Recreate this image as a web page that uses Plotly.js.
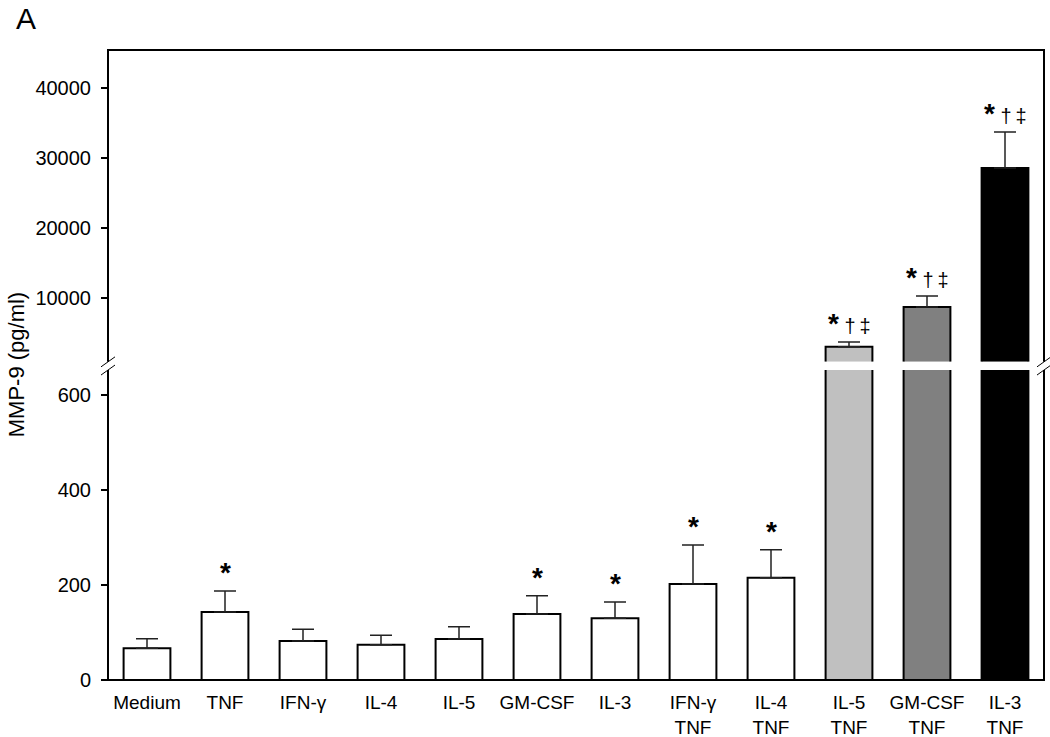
<!DOCTYPE html>
<html>
<head>
<meta charset="utf-8">
<script src="https://cdn.plot.ly/plotly-3.0.1.min.js"></script>
<style>
  body { margin: 0; background: #fff; }
  #chart { width: 1050px; height: 737px; }
</style>
</head>
<body>
<div id="chart"></div>
<script>
// categories (two-line labels) and values
var labels = ['Medium', 'TNF', 'IFN-\u03b3', 'IL-4', 'IL-5', 'GM-CSF', 'IL-3',
              'IFN-\u03b3<br>TNF', 'IL-4<br>TNF', 'IL-5<br>TNF', 'GM-CSF<br>TNF', 'IL-3<br>TNF'];
var mmp9 = [67, 143, 82, 74, 86, 139, 130, 202, 215, 3000, 8700, 28550];
var sem  = [20, 44, 25, 20, 26, 38, 34, 82, 59, 700, 1580, 5150];
var marks = ['', '*', '', '', '', '*', '*', '*', '*', '*\u2020\u2021', '*\u2020\u2021', '*\u2020\u2021'];
var fills = ['#ffffff', '#ffffff', '#ffffff', '#ffffff', '#ffffff', '#ffffff', '#ffffff',
             '#ffffff', '#ffffff', '#c0c0c0', '#808080', '#000000'];

var lowTop = 652;     // top of the lower segment of the broken axis
var lowDom = [0, 0.492];
var upDom = [0.505, 1];

function barTrace(yaxis)
{
    return {
        type: 'bar',
        x: labels,
        y: mmp9,
        yaxis: yaxis,
        marker: {color: fills, line: {color: '#000', width: 2}},
        error_y: {type: 'data', symmetric: false, array: sem,
                  arrayminus: sem.map(function () { return 0; }),
                  color: '#222', thickness: 1.5, width: 11},
        showlegend: false
    };
}

var data = [barTrace('y'), barTrace('y2')];

var annotations = [];
for (var i = 0; i < labels.length; i++)
{
    if (!marks[i]) continue;
    var errTop = mmp9[i] + sem[i];
    var txt = '<b>*</b>';
    if (marks[i].length > 1)
        txt += '<span style="font-size:20px"> \u2020\u2009\u2021</span>';
    annotations.push({
        x: i, y: errTop, xref: 'x', yref: errTop > lowTop ? 'y2' : 'y',
        text: txt, showarrow: false, yanchor: 'bottom', yshift: 1,
        font: {family: 'Liberation Sans, Arial', size: 28, color: '#000'}
    });
}
annotations.push({
    xref: 'paper', yref: 'paper', x: -0.098, y: 0.5, xanchor: 'center', yanchor: 'middle',
    textangle: -90, text: 'MMP-9 (pg/ml)', showarrow: false,
    font: {family: 'Liberation Sans, Arial', size: 22, color: '#000'}
});
annotations.push({
    xref: 'paper', yref: 'paper', x: -0.1, y: 1.05, xanchor: 'left', yanchor: 'middle',
    text: 'A', showarrow: false,
    font: {family: 'Liberation Sans, Arial', size: 30, color: '#000'}
});

// plot area in pixels, used to size the break marks
var plotW = 1050 - 108 - 6, plotH = 737 - 50 - 57;
var dx = 7 / plotW, dy = 5 / plotH;
var shapes = [
    // frame
    {type: 'rect', xref: 'paper', yref: 'paper', x0: 0, x1: 1, y0: 0, y1: 1,
     line: {color: '#000', width: 2}, layer: 'above'},
    // white break band through the bars and frame
    {type: 'rect', xref: 'paper', yref: 'paper', x0: -0.01, x1: 1.01,
     y0: lowDom[1], y1: upDom[0], fillcolor: '#fff', line: {width: 0}, layer: 'above'}
];
[0, 1].forEach(function (xa) {
    [lowDom[1], upDom[0]].forEach(function (ya) {
        shapes.push({type: 'line', xref: 'paper', yref: 'paper',
                     x0: xa - dx, x1: xa + dx, y0: ya - dy, y1: ya + dy,
                     line: {color: '#000', width: 1}, layer: 'above'});
    });
});

function tickFont() { return {family: 'Liberation Sans, Arial', size: 20, color: '#000'}; }
var layout = {
    width: 1050,
    height: 737,
    margin: {l: 108, r: 6, t: 50, b: 57},
    paper_bgcolor: '#fff',
    plot_bgcolor: '#fff',
    bargap: 0.4,
    xaxis: {
        type: 'category', range: [-0.5, 11.5], showline: false, showgrid: false,
        zeroline: false, ticks: '', ticklabelstandoff: 9,
        tickfont: {family: 'Liberation Sans, Arial', size: 19, color: '#000'}
    },
    yaxis: {
        domain: lowDom, range: [0, lowTop], tickvals: [0, 200, 400, 600], tickformat: 'd',
        showgrid: false, zeroline: false, showline: false,
        ticks: 'outside', ticklen: 6, tickwidth: 2, tickcolor: '#000',
        ticklabelstandoff: 6, tickfont: tickFont()
    },
    yaxis2: {
        domain: upDom, range: [858, 45430], tickvals: [10000, 20000, 30000, 40000], tickformat: 'd',
        showgrid: false, zeroline: false, showline: false,
        ticks: 'outside', ticklen: 6, tickwidth: 2, tickcolor: '#000',
        ticklabelstandoff: 6, tickfont: tickFont()
    },
    annotations: annotations,
    shapes: shapes
};

Plotly.newPlot('chart', data, layout, {displayModeBar: false, staticPlot: true});
</script>
</body>
</html>
